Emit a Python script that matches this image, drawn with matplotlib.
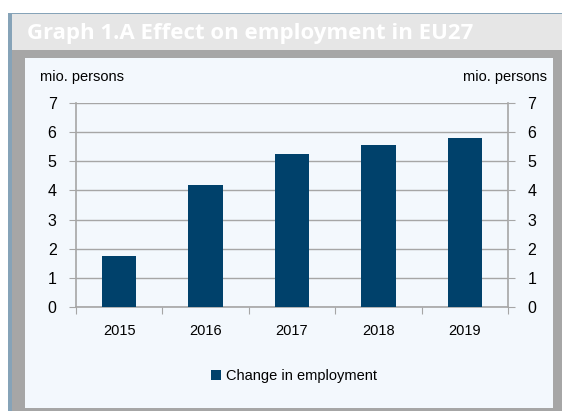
import matplotlib.pyplot as plt
from matplotlib.patches import Rectangle, Patch

# Data
years = ["2015", "2016", "2017", "2018", "2019"]
change = [1.75, 4.2, 5.25, 5.55, 5.8]

W, H = 562, 411
bar_color = "#00416b"
grid_color = "#a6a6a6"
panel_bg = "#f3f8fd"

fig = plt.figure(figsize=(W / 100, H / 100), dpi=100)
fig.patch.set_facecolor("white")


def box(x0, y0, x1, y1, color, z=0):
    # rectangle in pixel coords (y from top)
    r = Rectangle((x0 / W, 1 - y1 / H), (x1 - x0) / W, (y1 - y0) / H,
                  transform=fig.transFigure, facecolor=color, edgecolor="none", zorder=z)
    fig.add_artist(r)


# frame pieces
box(8, 13, 562, 411, "#86a3b8", -5)
box(12, 14, 562, 50, "#e6e6e6", -4)
box(12, 50, 562, 411, "#a6a6a6", -4)
box(25, 58, 553, 408, panel_bg, -3)

fig.text(27 / W, 1 - 34 / H, "Graph 1.A Effect on employment in EU27", color="white",
         fontsize=16, fontweight="bold", family="Open Sans", va="center", ha="left")

ax = fig.add_axes([76 / W, 1 - 307 / H, (508 - 76) / W, (307 - 103) / H])
ax.set_facecolor("none")
x = range(len(years))
ax.bar(x, change, width=0.4, color=bar_color, zorder=3, label="Change in employment")
ax.set_xlim(-0.5, len(years) - 0.5)
ax.set_ylim(0, 7)
ax.set_yticks(range(0, 8))
ax.yaxis.grid(True, color=grid_color, linewidth=1)
ax.set_axisbelow(True)

# category ticks between bars, labels centered
ax.set_xticks([i + 0.5 for i in range(-1, len(years))])
ax.set_xticklabels([])
ax.set_xticks(list(x), minor=True)
ax.set_xticklabels(years, minor=True, fontsize=10.5, family="Liberation Sans")
ax.tick_params(axis="x", which="major", length=5, color=grid_color, direction="out")
ax.tick_params(axis="x", which="minor", length=0, pad=12)
ax.tick_params(axis="y", length=5, color=grid_color, labelsize=11.5, pad=9,
               left=True, right=True, labelleft=True, labelright=True, direction="out")
for lab in ax.get_yticklabels():
    lab.set_family("Liberation Sans")

for s in ["top"]:
    ax.spines[s].set_visible(False)
for s in ["left", "right", "bottom"]:
    ax.spines[s].set_color(grid_color)
    ax.spines[s].set_linewidth(1.2)

fig.text(40 / W, 1 - 77 / H, "mio. persons", fontsize=10.5, family="Liberation Sans",
         va="center", ha="left")
fig.text(547 / W, 1 - 77 / H, "mio. persons", fontsize=10.5, family="Liberation Sans",
         va="center", ha="right")

fig.legend(handles=[Patch(facecolor=bar_color, label="Change in employment")],
           loc="center", bbox_to_anchor=(294 / W, 1 - 376 / H), frameon=False,
           prop={"family": "Liberation Sans", "size": 10.5}, handlelength=0.7,
           handleheight=0.7, handletextpad=0.3)

fig.savefig("out.png", dpi=100)
